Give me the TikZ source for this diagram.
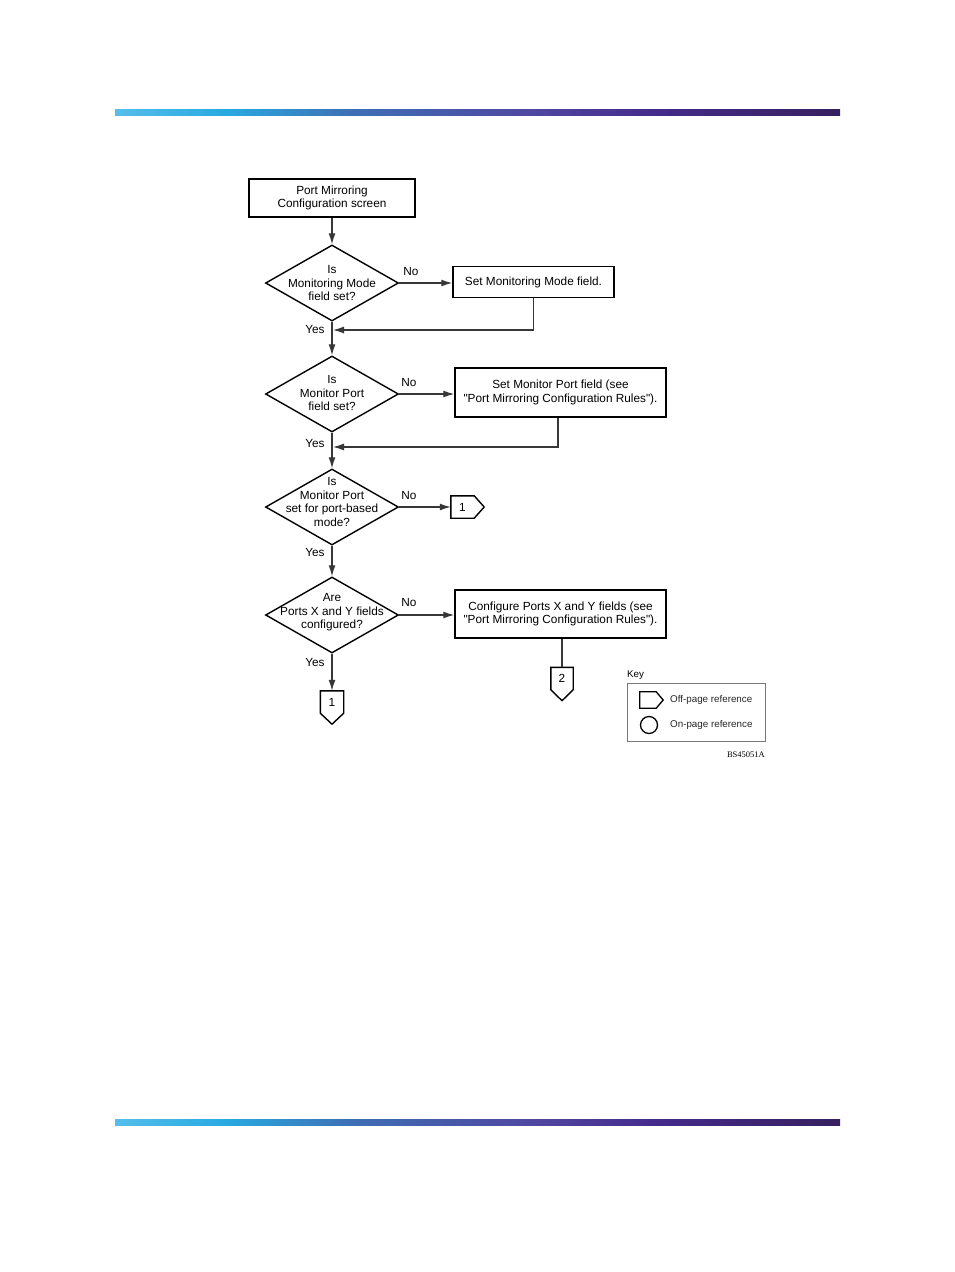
\documentclass[tikz,border=0pt]{standalone}
\usepackage{fontspec}
\setmainfont{Liberation Sans}[Ligatures=TeXOff]
\newfontfamily\serifid{Liberation Serif}
\usetikzlibrary{shapes.geometric,arrows.meta,calc}
\definecolor{lc}{RGB}{55,55,55}
\definecolor{keygray}{RGB}{120,120,120}
\definecolor{cA}{RGB}{85,190,235}
\definecolor{cB}{RGB}{40,170,225}
\definecolor{cC}{RGB}{62,110,180}
\definecolor{cD}{RGB}{80,70,160}
\definecolor{cE}{RGB}{68,42,138}
\definecolor{cF}{RGB}{55,32,95}
\pgfdeclarehorizontalshading{barshade}{100bp}{%
  color(0bp)=(cA); color(25bp)=(cA); color(32.5bp)=(cB); color(41.5bp)=(cC); color(54bp)=(cD); color(62.5bp)=(cE); color(75bp)=(cF); color(100bp)=(cF)}
\begin{document}
\begin{tikzpicture}[x=1pt,y=-1pt,
  font=\fontsize{11.8}{13.5}\selectfont,
  box/.style={draw=black, line width=1.5pt, rectangle, align=center, inner sep=0pt},
  dia/.style={draw=black, line width=1.4pt, diamond, minimum width=133pt, minimum height=76pt, inner sep=0pt},
  dtext/.style={align=center, inner sep=0pt},
  arr/.style={draw=lc, line width=1.3pt, -{Latex[length=11pt,width=7pt]}},
  ln/.style={draw=lc, line width=1.3pt},
  off/.style={draw=none, rectangle, minimum width=#1, inner sep=0pt},
  pent/.style={draw=black, line width=1.4pt, line join=miter},
  lab/.style={inner sep=0pt},
  keyt/.style={font=\fontsize{9.8}{11}\selectfont, text=black!85, inner sep=0pt, anchor=west}
]
\useasboundingbox (0,0) rectangle (954,1272);
% header / footer bars
\shade[shading=barshade] (115,109) rectangle (840,115);
\shade[shading=barshade] (115,1119) rectangle (840,1125);

% nodes
\node[box, minimum width=166pt, minimum height=38pt] (b1) at (332,198) {Port Mirroring\\Configuration screen};
\node[dia] (d1) at (332,283) {};
\node[dtext] (t1) at (332,283) {Is\\Monitoring Mode\\field set?};
\node[box, minimum width=161pt, minimum height=31pt] (b2) at (533.5,282) {Set Monitoring Mode field.};
\node[dia] (d2) at (332,394) {};
\node[dtext] (t2) at (332,393) {Is\\Monitor Port\\field set?};
\node[box, minimum width=211pt, minimum height=49pt] (b3) at (560.5,392.5) {Set Monitor Port field (see\\"Port Mirroring Configuration Rules").};
\node[dia] (d3) at (332,507) {};
\node[dtext] (t3) at (332,502) {Is\\Monitor Port\\set for port-based\\mode?};
\node[off=23pt, minimum height=22pt] (o1) at (462.5,507) {1};
\node[dia] (d4) at (332,615) {};
\node[dtext] (t4) at (332,612.5) {Are\\Ports X and Y fields\\configured?};
\node[box, minimum width=211pt, minimum height=48pt] (b4) at (560.5,614) {Configure Ports X and Y fields (see\\"Port Mirroring Configuration Rules").};
\node[off=22pt, minimum height=22pt] (o2) at (562,678.5) {2};
\node[off=23pt, minimum height=22pt] (o3) at (332,702) {1};

% off-page outlines
\draw[pent] (o1.north west) -- (o1.north east) -- ($(o1.east)+(10,0)$) -- (o1.south east) -- (o1.south west) -- cycle;
\draw[pent] (o2.north west) -- (o2.north east) -- (o2.south east) -- ($(o2.south)+(0,11)$) -- (o2.south west) -- cycle;
\draw[pent] (o3.north west) -- (o3.north east) -- (o3.south east) -- ($(o3.south)+(0,11)$) -- (o3.south west) -- cycle;

% labels
\node[lab] (n1) at (411,271) {No};
\node[lab] (n2) at (409,382) {No};
\node[lab] (n3) at (409,495) {No};
\node[lab] (n4) at (409,602) {No};
\node[lab] (y1) at (315,329) {Yes};
\node[lab] (y2) at (315,443) {Yes};
\node[lab] (y3) at (315,552) {Yes};
\node[lab] (y4) at (315,662) {Yes};

\coordinate (j1) at (333,330);
\coordinate (j2) at (333,447);

% connectors
\draw[arr] (b1.south) -- (d1.north);
\draw[arr] (d1.east) -- (d1.east -| b2.west);
\draw[arr] (b2.south) |- (j1);
\draw[arr] (b3.south -| 558,0) |- (j2);
\draw[arr] (d1.south) -- (d2.north);
\draw[arr] (d2.east) -- (d2.east -| b3.west);
\draw[arr] (d2.south) -- (d3.north);
\draw[arr] (d3.east) -- (o1.west);
\draw[arr] (d3.south) -- (d4.north);
\draw[arr] (d4.east) -- (d4.east -| b4.west);
\draw[ln] (b4.south -| o2.north) -- (o2.north);
\draw[arr] (d4.south) -- (o3.north);

% key
\node[lab, font=\fontsize{9.8}{11}\selectfont, anchor=west] (keylab) at (627,675) {Key};
\node[draw=keygray, line width=0.8pt, minimum width=138pt, minimum height=58pt, inner sep=0pt] (keybox) at (696,712) {};
\node[off=16pt, minimum height=16pt] (ks) at (648,700) {};
\draw[pent, line width=1.3pt] (ks.north west) -- (ks.north east) -- ($(ks.east)+(7,0)$) -- (ks.south east) -- (ks.south west) -- cycle;
\node[draw=black, line width=1.3pt, circle, minimum size=17pt, inner sep=0pt] (kc) at (649,725) {};
\node[keyt] (kt1) at (670,700) {Off-page reference};
\node[keyt] (kt2) at (670,725) {On-page reference};
\node[inner sep=0pt, anchor=east, font=\serifid\fontsize{8.5}{10}\selectfont] (id) at (765,755) {BS45051A};
\end{tikzpicture}
\end{document}
